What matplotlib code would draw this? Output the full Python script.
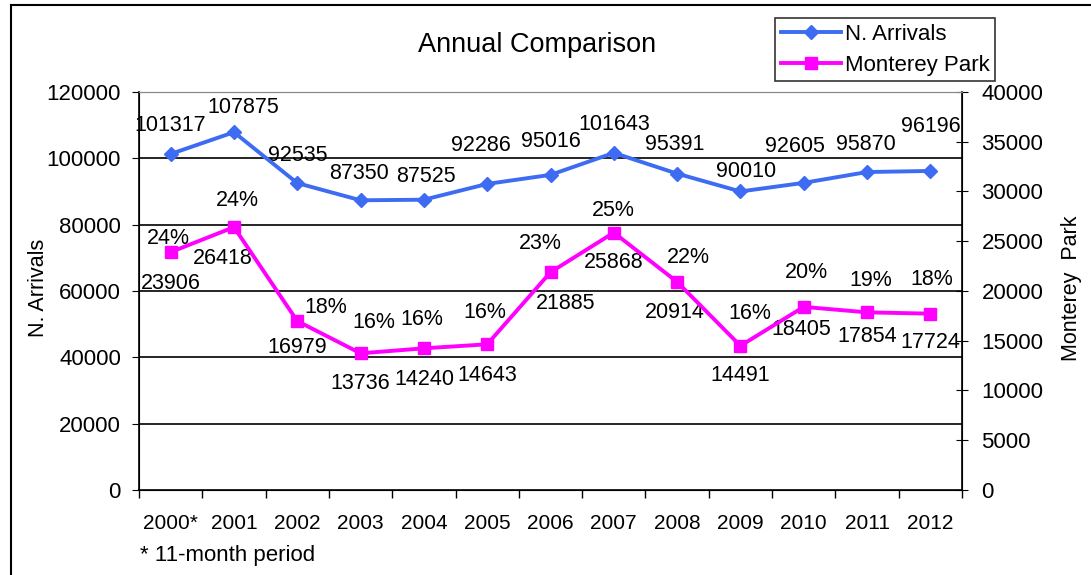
import matplotlib.pyplot as plt
from matplotlib.lines import Line2D
import numpy as np

plt.rcParams['font.family'] = ['Liberation Sans', 'DejaVu Sans']

years = ['2000*', '2001', '2002', '2003', '2004', '2005', '2006',
         '2007', '2008', '2009', '2010', '2011', '2012']
arrivals = [101317, 107875, 92535, 87350, 87525, 92286, 95016,
            101643, 95391, 90010, 92605, 95870, 96196]
monterey = [23906, 26418, 16979, 13736, 14240, 14643, 21885,
            25868, 20914, 14491, 18405, 17854, 17724]
share = [24, 24, 18, 16, 16, 16, 23, 25, 22, 16, 20, 19, 18]

# label offsets in pixels (dx, dy) relative to each point
arr_off = [(0, 28), (9, 25), (0, 28), (-2, 27), (2, 23), (-6, 38), (0, 33),
           (0, 28), (-2, 29), (6, 20), (-9, 36), (-1, 28), (0, 44)]
mp_off = [(0, -31), (-11, -31), (0, -26), (0, -30), (0, -31), (0, -31), (15, -31),
          (0, -30), (-2, -31), (0, -30), (-2, -23), (0, -24), (0, -29)]
pct_off = [(-2, 14), (3, 27), (28, 14), (13, 31), (-2, 29), (-2, 32), (-10, 29),
           (0, 22), (11, 24), (9, 32), (3, 34), (4, 32), (1, 34)]

blue = '#3d6cf2'
magenta = '#ff00ff'
fs = 16

fig = plt.figure(figsize=(10.91, 5.75), dpi=100)
ax = fig.add_axes([139/1091, 1-490/575, (962-139)/1091, 398/575])
ax2 = ax.twinx()

x = np.arange(len(years))
l1, = ax.plot(x, arrivals, color=blue, lw=2.8, marker='D', ms=7, zorder=5)
l2, = ax2.plot(x, monterey, color=magenta, lw=2.8, marker='s', ms=9, zorder=5)

ax.set_xlim(-0.5, len(years)-0.5)
ax.set_ylim(0, 120000)
ax2.set_ylim(0, 40000)
ax.set_yticks(np.arange(0, 120001, 20000))
ax2.set_yticks(np.arange(0, 40001, 5000))
ax.set_xticks(x)
ax.set_xticklabels(years)
ax.set_xticks(np.arange(-0.5, len(years), 1), minor=True)
ax.tick_params(axis='x', which='major', length=0, pad=17, labelsize=15)
ax.tick_params(axis='x', which='minor', length=6, direction='out', width=1)
ax.tick_params(axis='y', length=5, direction='out', pad=8, labelsize=fs)
ax2.tick_params(axis='y', length=8, direction='inout', pad=10, labelsize=fs)

for v in range(20000, 120000, 20000):
    ax.axhline(v, color='black', lw=1.2, zorder=1)
ax.spines['top'].set_color('#888888')
ax2.spines['top'].set_color('#888888')
ax2.spines['right'].set_linewidth(1.2)
ax.spines['left'].set_linewidth(1.2)
ax.spines['bottom'].set_linewidth(1.2)

for i in range(len(years)):
    ax.annotate(str(arrivals[i]), (x[i], arrivals[i]), xytext=arr_off[i],
                textcoords='offset pixels', ha='center', va='center', fontsize=15.5)
    ax2.annotate(str(monterey[i]), (x[i], monterey[i]), xytext=mp_off[i],
                 textcoords='offset pixels', ha='center', va='center', fontsize=15.5)
    ax2.annotate(f'{share[i]}%', (x[i], monterey[i]), xytext=pct_off[i],
                 textcoords='offset pixels', ha='center', va='center', fontsize=15.5)

fig.text(537/1091, 1-45/575, 'Annual Comparison', ha='center', va='center', fontsize=19.5)
fig.text(38/1091, 1-288/575, 'N. Arrivals', rotation=90, ha='center', va='center', fontsize=15.5)
fig.text(1072/1091, 1-288/575, 'Monterey  Park', rotation=90, ha='center', va='center', fontsize=15.5)
fig.text(140/1091, 1-555/575, '* 11-month period', ha='left', va='center', fontsize=16)

leg = fig.legend([l1, l2], ['N. Arrivals', 'Monterey Park'], loc='upper left',
                 bbox_to_anchor=(775/1091, 1-18/575), fontsize=fs, frameon=True,
                 fancybox=False, handlelength=2.7, borderpad=0.25, labelspacing=0.45,
                 handletextpad=0.2, borderaxespad=0)
leg.get_frame().set_edgecolor('black')
leg.get_frame().set_linewidth(1.2)

fig.add_artist(Line2D([11/1091, 1], [1-5/575, 1-5/575], color='black', lw=1.5,
                      transform=fig.transFigure))
fig.add_artist(Line2D([11/1091, 11/1091], [0, 1-5/575], color='black', lw=1.5,
                      transform=fig.transFigure))

fig.savefig('out.png', dpi=100)
